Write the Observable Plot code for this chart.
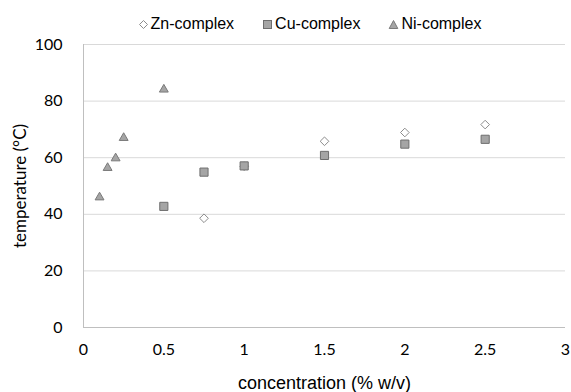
<!DOCTYPE html>
<html>
<head>
<meta charset="utf-8">
<script src="https://cdn.jsdelivr.net/npm/d3@7"></script>
<script src="https://cdn.jsdelivr.net/npm/@observablehq/plot@0.6"></script>
<style>
  html, body { margin: 0; padding: 0; background: #fff; }
  #wrap { position: relative; width: 571px; height: 392px; }
  #legend { position: absolute; left: 0; top: 0; height: 48px; width: 571px; display: flex;
            justify-content: center; align-items: center; padding-left: 48px; box-sizing: border-box;
            font-family: "Liberation Sans", Arial, sans-serif; font-size: 16px; color: #000; z-index: 2; }
  #legend .item { display: flex; align-items: center; margin: 0 14px; }
  #legend svg { margin-right: 2px; }
  g[aria-label="x-axis label"] text { font-family: "Liberation Sans", Arial, sans-serif; font-size: 18px; }
  g[aria-label="y-axis label"] text { font-family: Lato, sans-serif; font-size: 17px; }
</style>
</head>
<body>
<div id="wrap">
<div id="chart"></div>
<div id="legend"></div>
</div>
<script>
const seriesNames = ["Zn-complex", "Cu-complex", "Ni-complex"];
const znX = [0.75, 1, 1.5, 2, 2.5];
const znY = [38.6, 57, 65.8, 68.9, 71.7];
const cuX = [0.5, 0.75, 1, 1.5, 2, 2.5];
const cuY = [42.8, 54.9, 57.1, 60.8, 64.8, 66.5];
const niX = [0.1, 0.15, 0.2, 0.25, 0.5];
const niY = [46, 56.4, 59.8, 67, 84.1];
const xTicks = [0, 0.5, 1, 1.5, 2, 2.5, 3];
const yTicks = [0, 20, 40, 60, 80, 100];

const zn = znX.map((x, i) => ({x, y: znY[i]}));
const cu = cuX.map((x, i) => ({x, y: cuY[i]}));
const ni = niX.map((x, i) => ({x, y: niY[i]}));

// legend
const legend = document.getElementById("legend");
const legendShapes = {
  "Zn-complex": '<svg width="11" height="11"><path d="M5.5 1.5 L9.5 5.5 L5.5 9.5 L1.5 5.5 Z" fill="#fff" stroke="#8c8c8c"/></svg>',
  "Cu-complex": '<svg width="11" height="11"><rect x="1.5" y="1.5" width="8" height="8" fill="#a5a5a5" stroke="#6e6e6e"/></svg>',
  "Ni-complex": '<svg width="11" height="11"><path d="M5.5 1.5 L9.8 9.5 L1.2 9.5 Z" fill="#a5a5a5" stroke="#7a7a7a"/></svg>'
};
for (const name of seriesNames) {
  const d = document.createElement("div");
  d.className = "item";
  d.innerHTML = legendShapes[name] + "<span>" + name + "</span>";
  legend.appendChild(d);
}

const chart = Plot.plot({
  width: 571,
  height: 392,
  marginTop: 44,
  marginBottom: 65,
  marginLeft: 83,
  marginRight: 6,
  style: {fontFamily: "Lato, sans-serif", fontSize: "16px", color: "#000", background: "#fff", overflow: "visible"},
  x: {domain: [0, 3]},
  y: {domain: [0, 100]},
  marks: [
    Plot.gridY(yTicks.filter(d => d > 0), {stroke: "#d9d9d9", strokeOpacity: 1}),
    Plot.ruleY([0], {stroke: "#bfbfbf"}),
    Plot.ruleX([0], {stroke: "#bfbfbf"}),
    Plot.axisX({ticks: xTicks, tickSize: 0, tickPadding: 16, label: "concentration (% w/v)", labelAnchor: "center", labelOffset: 61, labelArrow: "none", tickFormat: d => String(d)}),
    Plot.axisY({ticks: yTicks, tickSize: 0, tickPadding: 21, label: "temperature (°C)", labelAnchor: "center", labelOffset: 70, labelArrow: "none"}),
    Plot.dot(zn, {x: "x", y: "y", symbol: () => "diamond2", r: 3.9, fill: "#ffffff", stroke: "#8c8c8c", strokeWidth: 1}),
    Plot.dot(cu, {x: "x", y: "y", symbol: () => "square", r: 4.6, fill: "#a5a5a5", stroke: "#6e6e6e", strokeWidth: 1}),
    Plot.dot(ni, {x: "x", y: "y", symbol: () => "triangle", r: 3.3, fill: "#a5a5a5", stroke: "#7a7a7a", strokeWidth: 1})
  ]
});
document.getElementById("chart").appendChild(chart);
</script>
</body>
</html>
